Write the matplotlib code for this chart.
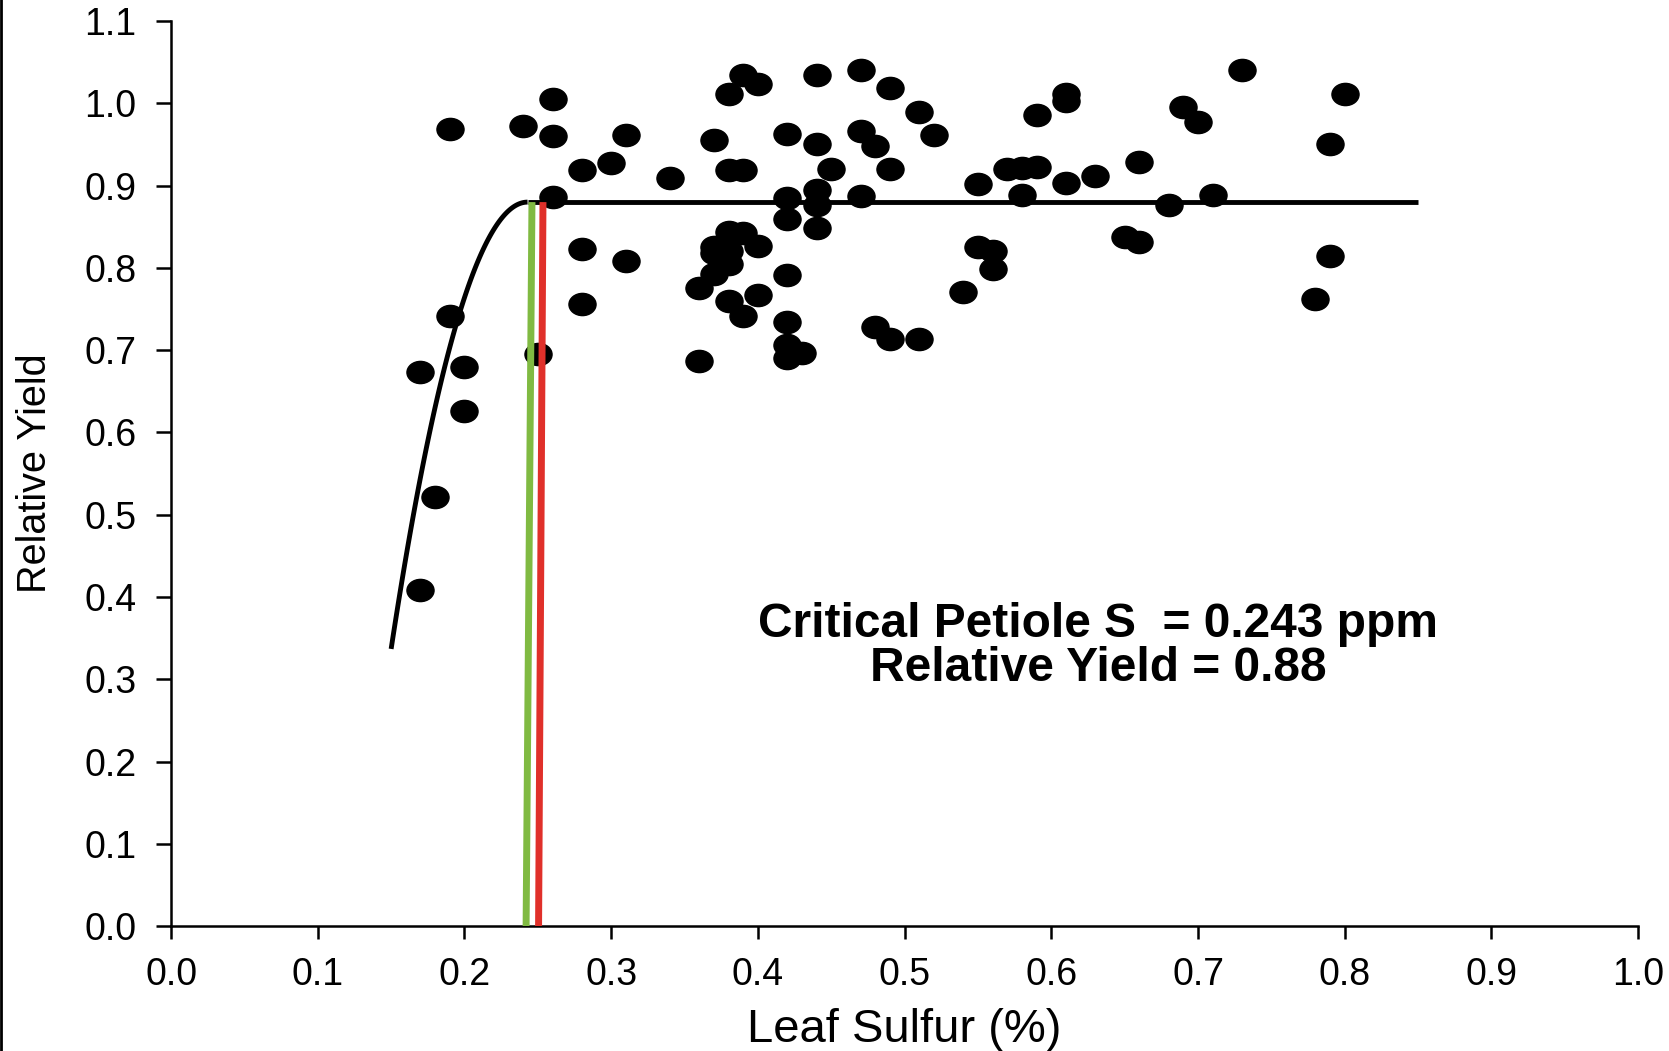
import matplotlib
matplotlib.use("Agg")
import numpy as np
import matplotlib.pyplot as plt
from matplotlib.path import Path
from matplotlib.transforms import Affine2D
from matplotlib.lines import Line2D

plt.rcParams['font.family'] = ['Liberation Sans', 'DejaVu Sans']

# leaf sulfur (%) and relative yield for each plot
leaf_s = [0.17, 0.18, 0.17, 0.19, 0.20, 0.20, 0.19,
          0.24, 0.26, 0.26, 0.26, 0.25,
          0.28, 0.28, 0.28, 0.30, 0.31, 0.31, 0.34,
          0.37, 0.38, 0.39, 0.40, 0.38, 0.39,
          0.38, 0.39, 0.40, 0.37, 0.38, 0.37, 0.38, 0.37,
          0.36, 0.38, 0.40, 0.39, 0.36,
          0.42, 0.44, 0.44, 0.45, 0.44, 0.42, 0.44, 0.42, 0.44,
          0.42, 0.42, 0.42, 0.43, 0.42,
          0.47, 0.49, 0.51, 0.52, 0.47, 0.48, 0.49, 0.47,
          0.55, 0.57, 0.58, 0.59, 0.58, 0.59, 0.61, 0.61, 0.61, 0.63,
          0.66, 0.68, 0.71, 0.69, 0.70, 0.73, 0.79, 0.80,
          0.55, 0.56, 0.56, 0.54, 0.65, 0.66, 0.79, 0.78,
          0.48, 0.49, 0.51]
rel_yield = [0.673, 0.521, 0.408, 0.742, 0.679, 0.626, 0.969,
             0.972, 1.005, 0.960, 0.886, 0.695,
             0.919, 0.823, 0.756, 0.928, 0.961, 0.808, 0.909,
             0.956, 1.011, 1.034, 1.024, 0.919, 0.919,
             0.844, 0.842, 0.827, 0.826, 0.820, 0.818, 0.805, 0.793,
             0.775, 0.760, 0.767, 0.741, 0.687,
             0.963, 1.035, 0.951, 0.920, 0.895, 0.885, 0.877, 0.859, 0.849,
             0.791, 0.734, 0.706, 0.696, 0.691,
             1.040, 1.019, 0.990, 0.962, 0.966, 0.948, 0.920, 0.888,
             0.902, 0.920, 0.922, 0.923, 0.889, 0.986, 1.012, 1.003, 0.903, 0.912,
             0.929, 0.876, 0.889, 0.996, 0.977, 1.041, 0.951, 1.012,
             0.825, 0.820, 0.799, 0.771, 0.837, 0.832, 0.814, 0.762,
             0.728, 0.714, 0.714]

# quadratic-plateau fit
critical_s = 0.243
plateau = 0.88
curvature = 62.8
fit_start = 0.15
fit_end = 0.85

# critical value markers
green_x = [0.246, 0.242]
red_x = [0.2535, 0.2505]
marker_y = [0.88, 0.0]

xs = np.linspace(fit_start, critical_s, 100)
ys = plateau - curvature * (xs - critical_s) ** 2

fig = plt.figure(figsize=(16.69, 10.51), dpi=100)
ax = fig.add_axes([0.1025, 0.1189, 0.879, 0.861])

oval = Path.unit_circle().transformed(Affine2D().scale(1, 0.82))
ax.plot(leaf_s, rel_yield, linestyle='none', marker=oval, markersize=19.5,
        color='black', zorder=3)

ax.plot(xs, ys, color='black', lw=3.5, zorder=2, solid_capstyle='butt')
ax.plot([critical_s, fit_end], [plateau, plateau], color='black', lw=3.5,
        zorder=2, solid_capstyle='butt')

ax.plot(green_x, marker_y, color='#80BA42', lw=5, zorder=4, solid_capstyle='butt')
ax.plot(red_x, marker_y, color='#E0302A', lw=5, zorder=4, solid_capstyle='butt')

ax.text(0.632, 0.367, 'Critical Petiole S  = 0.243 ppm', fontsize=34.5,
        fontweight='bold', ha='center', va='center')
ax.text(0.632, 0.313, 'Relative Yield = 0.88', fontsize=34.5,
        fontweight='bold', ha='center', va='center')

ax.set_xlim(0, 1.0)
ax.set_ylim(0, 1.1)
ax.set_xticks(np.arange(0, 1.01, 0.1))
ax.set_yticks(np.arange(0, 1.11, 0.1))
ax.xaxis.set_major_formatter(matplotlib.ticker.FormatStrFormatter('%.1f'))
ax.yaxis.set_major_formatter(matplotlib.ticker.FormatStrFormatter('%.1f'))

for side in ['top', 'right']:
    ax.spines[side].set_visible(False)
for side in ['left', 'bottom']:
    ax.spines[side].set_linewidth(1.8)
ax.tick_params(axis='x', direction='out', length=9.5, width=1.8, labelsize=27, pad=12.5)
ax.tick_params(axis='y', direction='out', length=11, width=1.8, labelsize=27, pad=14)

ax.set_xlabel('Leaf Sulfur (%)', fontsize=34, labelpad=11)
ax.set_ylabel('Relative Yield', fontsize=28.5, labelpad=22)

# thin frame line down the left edge
fig.add_artist(Line2D([0.0008, 0.0008], [0, 1], transform=fig.transFigure,
                      color='black', lw=2))

fig.savefig('out.png', dpi=100)
